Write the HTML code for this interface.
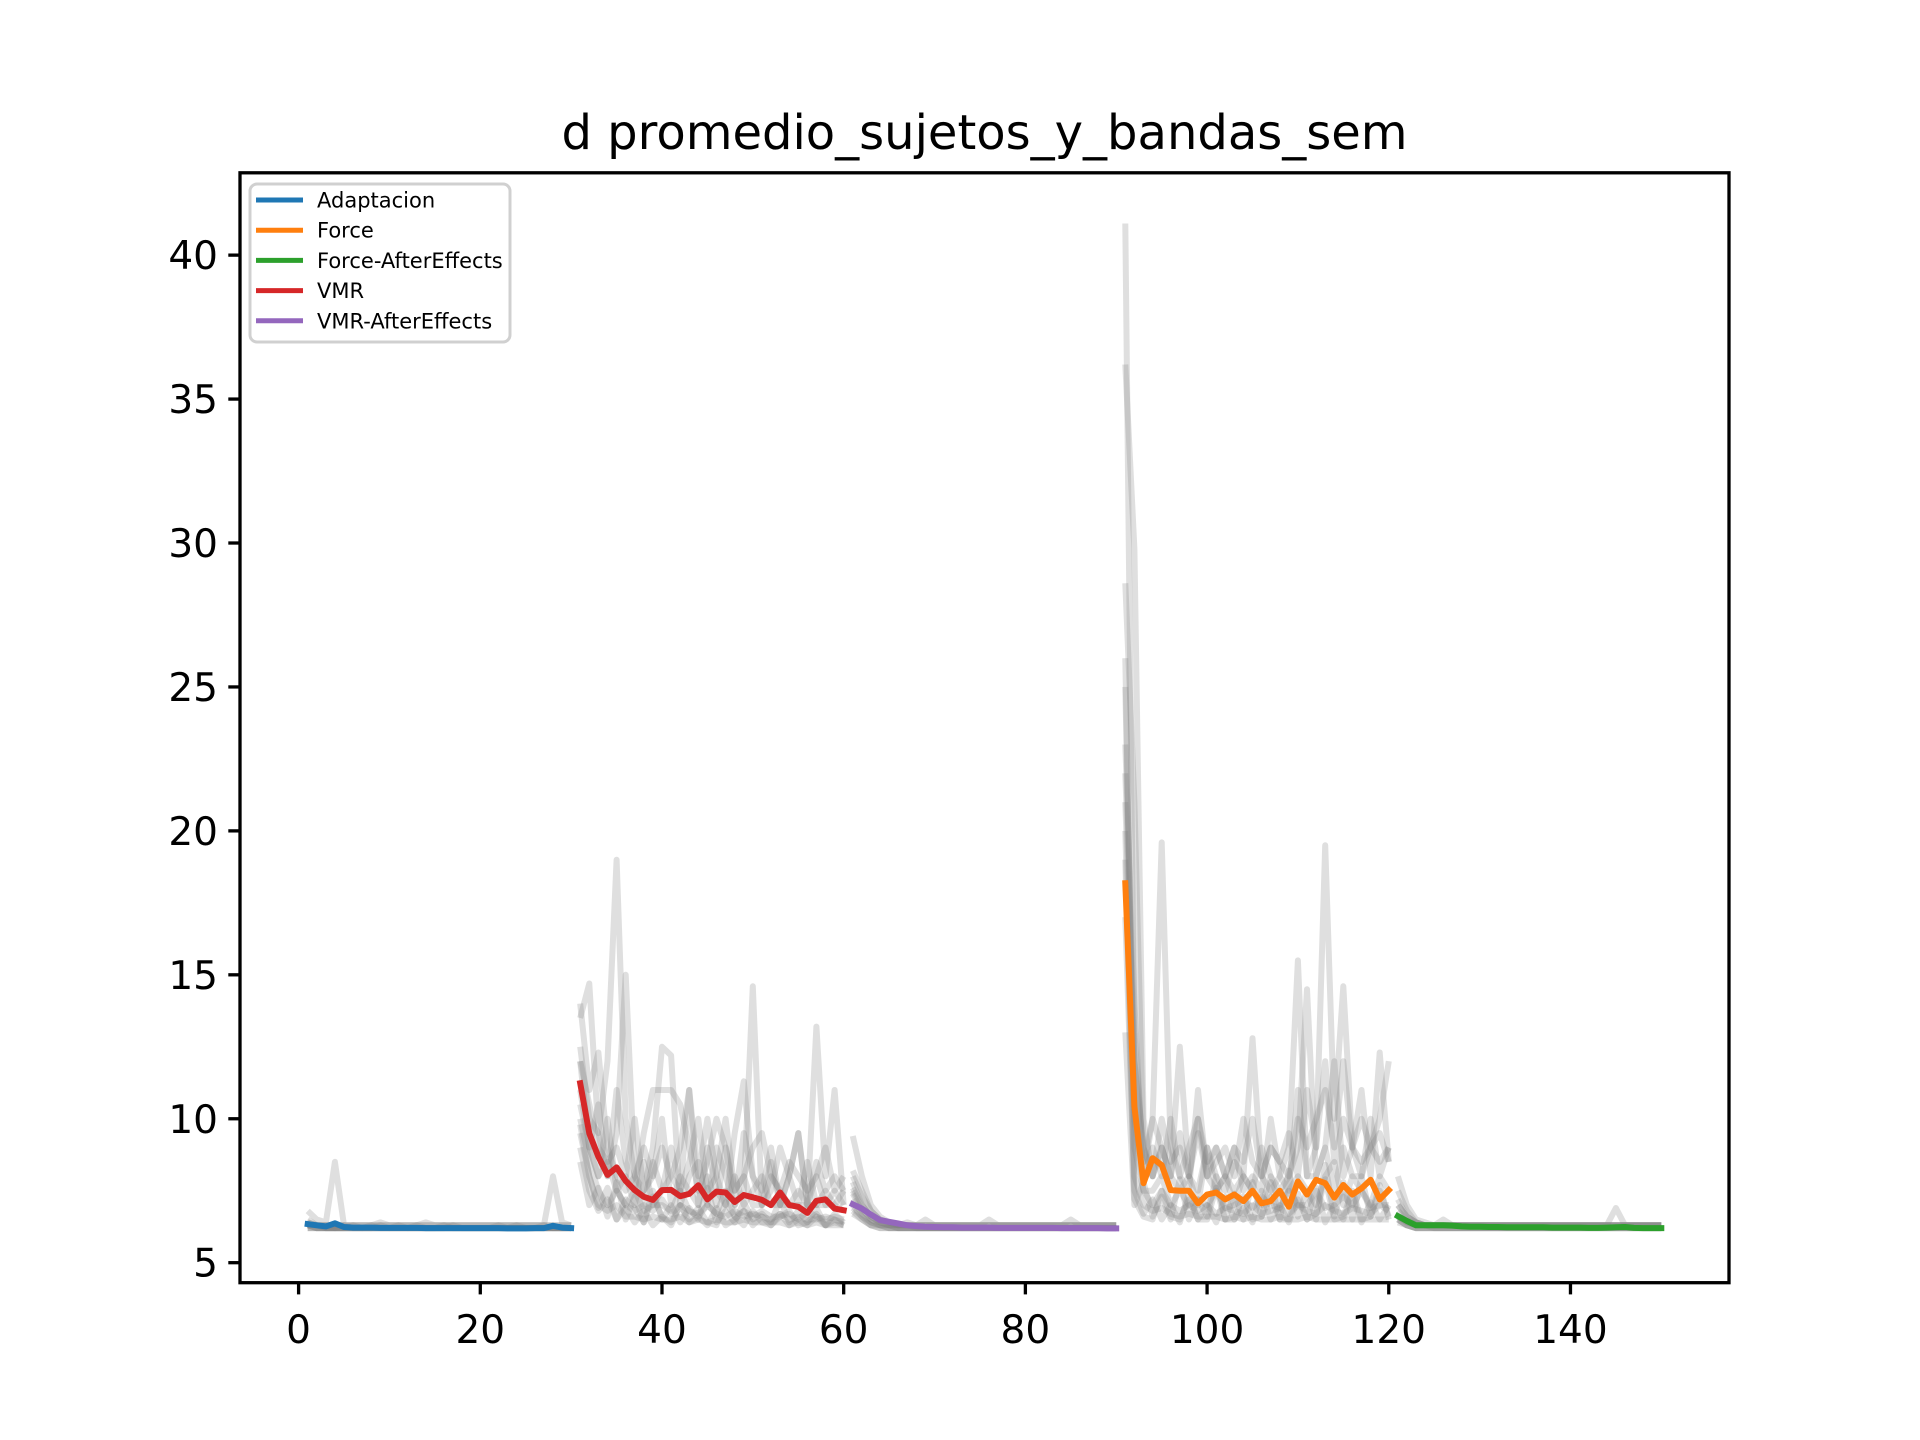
<!DOCTYPE html>
<html><head><meta charset="utf-8"><title>d promedio_sujetos_y_bandas_sem</title>
<style>
html,body{margin:0;padding:0;background:#fff;}
svg{display:block;font-family:"DejaVu Sans","Liberation Sans",sans-serif;}
</style></head>
<body>
<svg id="chart" width="1920" height="1440" viewBox="0 0 1920 1440" xmlns="http://www.w3.org/2000/svg">
<rect width="1920" height="1440" fill="#fff"/>
<text x="984.5" y="149" font-size="48" text-anchor="middle">d promedio_sujetos_y_bandas_sem</text>
<g id="plot"></g>
<g id="axes"></g>
<g id="legend"></g>
</svg>
<script>
const xTicks = [0, 20, 40, 60, 80, 100, 120, 140];
const yTicks = [5, 10, 15, 20, 25, 30, 35, 40];
const seriesNames = ["Adaptacion", "Force", "Force-AfterEffects", "VMR", "VMR-AfterEffects"];
const seriesStart = [1, 91, 121, 31, 61];
const adaptacion = [6.34,6.3,6.26,6.37,6.24,6.22,6.22,6.22,6.21,6.21,6.21,6.21,6.21,6.2,6.2,6.2,6.2,6.2,6.2,6.2,6.2,6.2,6.19,6.19,6.19,6.2,6.2,6.28,6.22,6.2];
const vmr = [11.23,9.49,8.68,8.05,8.31,7.84,7.52,7.29,7.18,7.52,7.53,7.31,7.39,7.69,7.2,7.47,7.44,7.11,7.35,7.27,7.18,7.0,7.44,7.0,6.94,6.73,7.15,7.2,6.88,6.82];
const vmrAE = [7.03,6.88,6.67,6.48,6.42,6.36,6.3,6.27,6.25,6.24,6.23,6.23,6.22,6.22,6.22,6.22,6.21,6.21,6.21,6.21,6.21,6.21,6.21,6.2,6.2,6.2,6.2,6.2,6.19,6.19];
const force = [18.18,10.42,7.76,8.63,8.39,7.52,7.5,7.5,7.06,7.37,7.44,7.2,7.37,7.14,7.5,7.06,7.14,7.5,6.94,7.82,7.37,7.88,7.76,7.26,7.7,7.37,7.58,7.88,7.2,7.52];
const forceAE = [6.62,6.45,6.3,6.3,6.3,6.3,6.29,6.26,6.25,6.25,6.24,6.24,6.23,6.23,6.23,6.23,6.23,6.22,6.22,6.22,6.22,6.21,6.21,6.22,6.23,6.24,6.21,6.2,6.2,6.2];
const seriesValues = [adaptacion, force, forceAE, vmr, vmrAE];
const seriesColors = ["#1f77b4", "#ff7f0e", "#2ca02c", "#d62728", "#9467bd"];

const subj1 = [6.8,6.5,6.4,8.5,6.3,6.3,6.3,6.3,6.4,6.3,6.3,6.3,6.3,6.4,6.3,6.3,6.3,6.3,6.3,6.3,6.3,6.3,6.3,6.3,6.3,6.3,6.3,8.0,6.4,6.3,
 13.5,14.7,9.5,12,19,10,8,7.5,9,12.5,12.2,7,8,8.5,7,9,8,7,7.5,14.6,7,8,7.5,7,7,7,13.2,8,11,7,
 9.4,8,7,6.6,6.4,6.3,6.3,6.3,6.5,6.3,6.3,6.3,6.3,6.3,6.3,6.5,6.3,6.3,6.3,6.3,6.3,6.3,6.3,6.3,6.5,6.3,6.3,6.3,6.3,6.3,
 41.1,12,8,10,19.6,9,8,9,10,8,9,8,7.5,8,12.8,8,7.5,8,9,15.5,8,9,19.5,10,14.6,9,8,9,10,12,
 8,7,6.5,6.4,6.3,6.5,6.3,6.3,6.3,6.3,6.3,6.3,6.3,6.3,6.3,6.3,6.3,6.3,6.3,6.3,6.3,6.3,6.3,6.3,6.9,6.3,6.3,6.3,6.3,6.3];
const subj2 = [6.5,6.3,6.3,6.2,6.2,6.3,6.2,6.2,6.3,6.2,6.2,6.2,6.3,6.2,6.2,6.2,6.3,6.2,6.2,6.2,6.2,6.3,6.2,6.2,6.2,6.2,6.3,6.2,6.2,6.2,
 12.5,10,9.5,8,9.5,15,8,7,8.5,7.5,8,9,11,8,10,8,7,9.5,11.3,8,7,7.5,9,8,7,8.5,7,7.5,7,6.8,
 8.2,7.5,6.8,6.5,6.4,6.3,6.3,6.3,6.3,6.3,6.3,6.3,6.3,6.3,6.3,6.3,6.3,6.3,6.3,6.3,6.3,6.3,6.3,6.3,6.3,6.3,6.3,6.3,6.3,6.3,
 36.2,29.8,10,8,9,8,12.5,8,7.5,9,8,7.5,8.5,8,7.5,9,8,7.5,8,9,14.5,8,9,12,8,9,11,8,12.3,8.5,
 7.5,6.8,6.4,6.3,6.3,6.3,6.3,6.3,6.3,6.3,6.3,6.3,6.3,6.3,6.3,6.3,6.3,6.3,6.3,6.3,6.3,6.3,6.3,6.3,6.3,6.3,6.3,6.3,6.3,6.3];
const subj3 = [6.4,6.3,6.2,6.2,6.2,6.2,6.2,6.2,6.2,6.2,6.2,6.2,6.2,6.2,6.2,6.2,6.2,6.2,6.2,6.2,6.2,6.2,6.2,6.2,6.2,6.2,6.2,6.2,6.2,6.2,
 14,11,12.3,9,8,7.5,8,9,8,10,7,8,7.5,7,9,7.5,7,8,7,7.5,8,7,7,8,9.5,7,7,7,7.5,7,
 7.8,7,6.6,6.4,6.3,6.3,6.3,6.2,6.2,6.2,6.2,6.2,6.2,6.2,6.2,6.2,6.2,6.2,6.2,6.2,6.2,6.2,6.2,6.2,6.2,6.2,6.2,6.2,6.2,6.2,
 28.6,21,9,8,9,8,7.5,8,7,9,7.5,8,7,8,7.5,7,8,7,7.5,8,7.5,7,8,8.5,7,8,7.5,7,8,7.5,
 7,6.6,6.4,6.3,6.3,6.3,6.3,6.3,6.3,6.3,6.3,6.3,6.3,6.3,6.3,6.3,6.3,6.3,6.3,6.3,6.3,6.3,6.3,6.3,6.3,6.3,6.3,6.3,6.3,6.3];
const subj4 = [6.3,6.2,6.2,6.2,6.2,6.2,6.2,6.2,6.2,6.2,6.2,6.2,6.2,6.2,6.2,6.2,6.2,6.2,6.2,6.2,6.2,6.2,6.2,6.2,6.2,6.2,6.2,6.2,6.2,6.2,
 10,8.5,7.5,7,7.5,7,6.8,7,6.8,7.2,6.7,7,6.8,6.6,7,6.7,6.6,6.8,6.6,6.7,6.6,6.5,6.7,6.5,6.6,6.5,6.5,6.6,6.5,6.4,
 7.2,6.7,6.4,6.3,6.3,6.2,6.2,6.2,6.2,6.2,6.2,6.2,6.2,6.2,6.2,6.2,6.2,6.2,6.2,6.2,6.2,6.2,6.2,6.2,6.2,6.2,6.2,6.2,6.2,6.2,
 26,9,7.5,7,7.5,7,6.8,7,6.8,7,6.7,6.9,6.8,6.7,7,6.7,6.8,6.9,6.7,7,6.8,6.7,7,6.8,6.7,6.9,6.8,6.7,7,6.8,
 6.6,6.4,6.3,6.3,6.2,6.2,6.2,6.2,6.2,6.2,6.2,6.2,6.2,6.2,6.2,6.2,6.2,6.2,6.2,6.2,6.2,6.2,6.2,6.2,6.2,6.2,6.2,6.2,6.2,6.2];
const subj5 = [6.3,6.2,6.2,6.2,6.3,6.2,6.2,6.3,6.2,6.2,6.3,6.2,6.2,6.2,6.2,6.3,6.2,6.2,6.2,6.2,6.2,6.2,6.2,6.3,6.2,6.2,6.2,6.2,6.2,6.2,
 11,9,8,10,7.5,8,7,8.5,7,7.5,9,7.5,11,7,8,7,9,7.5,8,7,7,8.5,7,7,7.5,7,8,7,7,7.5,
 7.5,6.9,6.5,6.4,6.3,6.3,6.3,6.3,6.3,6.3,6.3,6.3,6.3,6.3,6.3,6.3,6.3,6.3,6.3,6.3,6.3,6.3,6.3,6.3,6.3,6.3,6.3,6.3,6.3,6.3,
 23,14,8,9,8,10,8,7.5,11,8,7.5,8,9,7.5,8,7.5,10,8,7.5,11,8,8,9,7.5,9,8,8,10,8,9,
 6.8,6.5,6.3,6.3,6.3,6.3,6.3,6.3,6.3,6.3,6.3,6.3,6.3,6.3,6.3,6.3,6.3,6.3,6.3,6.3,6.3,6.3,6.3,6.3,6.3,6.3,6.3,6.3,6.3,6.3];
const subj6 = [6.2,6.2,6.2,6.2,6.2,6.2,6.2,6.2,6.2,6.2,6.2,6.2,6.2,6.2,6.2,6.2,6.2,6.2,6.2,6.2,6.2,6.2,6.2,6.2,6.2,6.2,6.2,6.2,6.2,6.2,
 9.5,8,7,6.8,7,6.6,6.6,6.5,6.6,6.5,6.5,6.6,6.4,6.5,6.4,6.5,6.4,6.4,6.5,6.4,6.4,6.4,6.4,6.3,6.4,6.3,6.4,6.3,6.3,6.3,
 6.8,6.5,6.3,6.3,6.2,6.2,6.2,6.2,6.2,6.2,6.2,6.2,6.2,6.2,6.2,6.2,6.2,6.2,6.2,6.2,6.2,6.2,6.2,6.2,6.2,6.2,6.2,6.2,6.2,6.2,
 20,8,7,6.8,6.9,6.7,6.6,6.7,6.6,6.6,6.6,6.5,6.6,6.5,6.6,6.5,6.5,6.6,6.5,6.5,6.6,6.5,6.5,6.5,6.5,6.5,6.5,6.5,6.5,6.5,
 6.5,6.3,6.2,6.2,6.2,6.2,6.2,6.2,6.2,6.2,6.2,6.2,6.2,6.2,6.2,6.2,6.2,6.2,6.2,6.2,6.2,6.2,6.2,6.2,6.2,6.2,6.2,6.2,6.2,6.2];
const subj7 = [6.4,6.3,6.3,6.3,6.3,6.3,6.3,6.3,6.3,6.3,6.3,6.3,6.3,6.3,6.3,6.3,6.3,6.3,6.3,6.3,6.3,6.3,6.3,6.3,6.3,6.3,6.3,6.3,6.3,6.3,
 12,10.5,9,8.5,9,8,10,7.5,8,9,8,7.5,8.5,10,7.5,8,10,7.5,8,9,9.5,8,7.5,8.5,8,7.5,8,9,7.5,8,
 8,7.3,6.8,6.5,6.4,6.3,6.3,6.3,6.3,6.3,6.3,6.3,6.3,6.3,6.3,6.3,6.3,6.3,6.3,6.3,6.3,6.3,6.3,6.3,6.3,6.3,6.3,6.3,6.3,6.3,
 21,12,9,8,10,8.5,9,8,9.5,8,8.5,9,8,10,8.5,8,9,8.5,8,10,9,10,11,9,12,9,10,9,8.5,9,
 7.2,6.6,6.4,6.3,6.3,6.3,6.3,6.3,6.3,6.3,6.3,6.3,6.3,6.3,6.3,6.3,6.3,6.3,6.3,6.3,6.3,6.3,6.3,6.3,6.3,6.3,6.3,6.3,6.3,6.3];
const subj8 = [6.3,6.3,6.2,6.2,6.2,6.2,6.2,6.2,6.2,6.2,6.2,6.2,6.2,6.2,6.2,6.2,6.2,6.2,6.2,6.2,6.2,6.2,6.2,6.2,6.2,6.2,6.2,6.2,6.2,6.2,
 10.5,9,8,8.5,7.5,7,7.5,6.8,7,7,6.8,7.5,6.8,6.7,7,6.7,7.5,6.6,6.8,6.6,6.8,6.6,6.6,6.7,6.5,6.8,6.6,6.5,6.6,6.5,
 7.4,6.8,6.5,6.3,6.3,6.2,6.2,6.2,6.2,6.2,6.2,6.2,6.2,6.2,6.2,6.2,6.2,6.2,6.2,6.2,6.2,6.2,6.2,6.2,6.2,6.2,6.2,6.2,6.2,6.2,
 25,10,7.5,7.5,8,7,7.5,7,7.2,7,7.5,6.9,7,7.2,6.9,7.3,7,6.9,7.5,7,7,7.5,6.9,7,7.3,7,7.5,6.9,7,7,
 6.6,6.4,6.3,6.3,6.3,6.3,6.3,6.3,6.3,6.3,6.3,6.3,6.3,6.3,6.3,6.3,6.3,6.3,6.3,6.3,6.3,6.3,6.3,6.3,6.3,6.3,6.3,6.3,6.3,6.3];
const subj9 = [6.3,6.2,6.2,6.2,6.2,6.2,6.2,6.2,6.2,6.2,6.2,6.2,6.2,6.2,6.2,6.2,6.2,6.2,6.2,6.2,6.2,6.2,6.2,6.2,6.2,6.2,6.2,6.2,6.2,6.2,
 9,7.5,6.8,7.2,6.5,6.9,6.4,6.8,6.3,6.6,6.3,7,6.4,6.6,6.3,6.9,6.3,6.5,6.8,6.3,6.6,6.3,6.7,6.3,6.5,6.3,6.6,6.3,6.4,6.3,
 6.9,6.6,6.4,6.3,6.2,6.2,6.2,6.2,6.2,6.2,6.2,6.2,6.2,6.2,6.2,6.2,6.2,6.2,6.2,6.2,6.2,6.2,6.2,6.2,6.2,6.2,6.2,6.2,6.2,6.2,
 17,7.5,6.7,7.2,6.5,7,6.4,7.4,6.5,7,6.4,7.3,6.5,6.9,6.4,7.5,6.5,7,6.4,7.2,6.5,7.6,6.4,7,6.5,7.3,6.4,7.1,6.5,7,
 6.5,6.3,6.2,6.2,6.2,6.2,6.2,6.2,6.2,6.2,6.2,6.2,6.2,6.2,6.2,6.2,6.2,6.2,6.2,6.2,6.2,6.2,6.2,6.2,6.2,6.2,6.2,6.2,6.2,6.2];
const subj10 = [6.2,6.2,6.2,6.2,6.2,6.2,6.2,6.2,6.2,6.2,6.2,6.2,6.2,6.2,6.2,6.2,6.2,6.2,6.2,6.2,6.2,6.2,6.2,6.2,6.2,6.2,6.2,6.2,6.2,6.2,
 8.5,7,7.6,6.6,7.8,6.5,7.3,6.4,7.5,6.5,7,6.4,6.9,6.5,7.6,6.4,6.8,6.4,7.1,6.5,6.7,6.4,7.2,6.4,6.8,6.4,6.9,6.3,6.7,6.4,
 6.7,6.5,6.3,6.2,6.2,6.2,6.2,6.2,6.2,6.2,6.2,6.2,6.2,6.2,6.2,6.2,6.2,6.2,6.2,6.2,6.2,6.2,6.2,6.2,6.2,6.2,6.2,6.2,6.2,6.2,
 13,7,7.8,6.6,7.3,6.5,7.9,6.5,7.2,6.6,8,6.5,7.4,6.5,7.8,6.6,7.3,6.5,8.2,6.6,7.5,6.5,8.4,6.6,7.8,6.5,8,6.6,7.5,6.6,
 6.4,6.3,6.2,6.2,6.2,6.2,6.2,6.2,6.2,6.2,6.2,6.2,6.2,6.2,6.2,6.2,6.2,6.2,6.2,6.2,6.2,6.2,6.2,6.2,6.2,6.2,6.2,6.2,6.2,6.2];
const subj11 = [6.3,6.3,6.3,6.3,6.3,6.3,6.3,6.3,6.3,6.3,6.3,6.3,6.3,6.3,6.3,6.3,6.3,6.3,6.3,6.3,6.3,6.3,6.3,6.3,6.3,6.3,6.3,6.3,6.3,6.3,
 12,9,10.5,8,11,8.5,7.5,9.5,11,11,11,10.5,9,7.5,8.5,10,9,7,9.5,8,7.5,9,7,8,9.5,7,8.5,7.5,8,7.5,
 7.6,7,6.6,6.4,6.3,6.3,6.4,6.3,6.3,6.3,6.3,6.3,6.3,6.3,6.3,6.3,6.3,6.3,6.3,6.3,6.3,6.3,6.3,6.3,6.3,6.3,6.3,6.3,6.3,6.3,
 22,13,8.5,10,9,8,9.5,8,10,8.5,9,8,9,8.5,10,8,9,8.5,9.5,8,11,9,12,8.5,10,9,8.5,9,9.5,8.5,
 7,6.6,6.4,6.3,6.3,6.3,6.3,6.3,6.3,6.3,6.3,6.3,6.3,6.3,6.3,6.3,6.3,6.3,6.3,6.3,6.3,6.3,6.3,6.3,6.3,6.3,6.3,6.3,6.3,6.3];
const subj12 = [6.2,6.2,6.2,6.2,6.2,6.2,6.2,6.2,6.2,6.2,6.2,6.2,6.2,6.2,6.2,6.2,6.2,6.2,6.2,6.2,6.2,6.2,6.2,6.2,6.2,6.2,6.2,6.2,6.2,6.2,
 9.8,8,6.9,7.6,6.5,7.2,6.9,6.4,7.3,6.6,6.4,7,6.5,6.9,6.4,6.3,7.1,6.6,6.3,6.8,6.4,6.3,6.6,6.8,6.3,6.4,6.7,6.3,6.5,6.3,
 7,6.6,6.3,6.2,6.2,6.2,6.2,6.2,6.2,6.2,6.2,6.2,6.2,6.2,6.2,6.2,6.2,6.2,6.2,6.2,6.2,6.2,6.2,6.2,6.2,6.2,6.2,6.2,6.2,6.2,
 19,7.2,6.6,6.5,7.5,6.6,6.5,7.2,6.5,6.5,7.6,6.5,6.5,7.3,6.5,6.6,7.8,6.5,6.5,7.4,6.5,6.7,7.9,6.5,6.6,7.5,6.5,6.6,7.7,6.5,
 6.5,6.3,6.2,6.2,6.2,6.2,6.2,6.2,6.2,6.2,6.2,6.2,6.2,6.2,6.2,6.2,6.2,6.2,6.2,6.2,6.2,6.2,6.2,6.2,6.2,6.2,6.2,6.2,6.2,6.2];
const subjects = [subj1, subj2, subj3, subj4, subj5, subj6, subj7, subj8, subj9, subj10, subj11, subj12];

const NS = "http://www.w3.org/2000/svg";
const L = 240, R = 1729, T = 172.8, B = 1282.7;
const xMin = -6.45, xMax = 157.45, yMin = 4.305, yMax = 42.86;
function xs(v){ return L + (v - xMin) / (xMax - xMin) * (R - L); }
function ys(v){ return B - (v - yMin) / (yMax - yMin) * (B - T); }
function mk(tag, attrs, parent){ const e = document.createElementNS(NS, tag); for (const k in attrs) e.setAttribute(k, attrs[k]); parent.appendChild(e); return e; }

const plot = document.getElementById('plot');
const axes = document.getElementById('axes');
const legend = document.getElementById('legend');

subjects.forEach((s, si) => {
  for (let b = 0; b < 5; b++) {
    const pts = [];
    for (let i = 0; i < 30; i++) { const idx = b * 30 + i; pts.push(xs(idx + 1).toFixed(1) + ',' + ys(s[idx]).toFixed(1)); }
    const pl = mk('polyline', {points: pts.join(' '), fill: 'none', stroke: 'rgba(128,128,128,0.25)', 'stroke-width': 6, 'stroke-linejoin': 'round'}, plot);
    
    
  }
});

seriesValues.forEach((vals, k) => {
  const pts = vals.map((v, i) => xs(seriesStart[k] + i).toFixed(1) + ',' + ys(v).toFixed(1));
  const pl = mk('polyline', {points: pts.join(' '), fill: 'none', stroke: seriesColors[k], 'stroke-width': 6, 'stroke-linejoin': 'round', 'stroke-linecap': 'square'}, plot);
  
  
});

const frame = mk('rect', {x: L, y: T, width: R - L, height: B - T, fill: 'none', stroke: '#000', 'stroke-width': 3.3}, axes);



xTicks.forEach(v => {
  const x = xs(v);
  const t = mk('line', {x1: x, x2: x, y1: B, y2: B + 11.7, stroke: '#000', 'stroke-width': 3.3}, axes);
  
  
  const lb = mk('text', {x: x, y: 1343, 'font-size': 39, 'text-anchor': 'middle'}, axes);
  lb.textContent = v;
  
  
});
yTicks.forEach(v => {
  const y = ys(v);
  const t = mk('line', {x1: L - 11.7, x2: L, y1: y, y2: y, stroke: '#000', 'stroke-width': 3.3}, axes);
  
  
  const lb = mk('text', {x: 218, y: y + 14, 'font-size': 39, 'text-anchor': 'end'}, axes);
  lb.textContent = v;
  
  
});

const box = mk('rect', {x: 250, y: 184, width: 260, height: 158, rx: 7, fill: 'rgba(255,255,255,0.8)', stroke: '#d0d0d0', 'stroke-width': 3}, legend);


seriesNames.forEach((n, k) => {
  const y = 200 + k * 30.2;
  const ln = mk('line', {x1: 256, x2: 303, y1: y, y2: y, stroke: seriesColors[k], 'stroke-width': 5}, legend);
  
  
  const tx = mk('text', {x: 317, y: y + 7.5, 'font-size': 21}, legend);
  tx.textContent = n;
  
  
});
</script>
</body></html>
